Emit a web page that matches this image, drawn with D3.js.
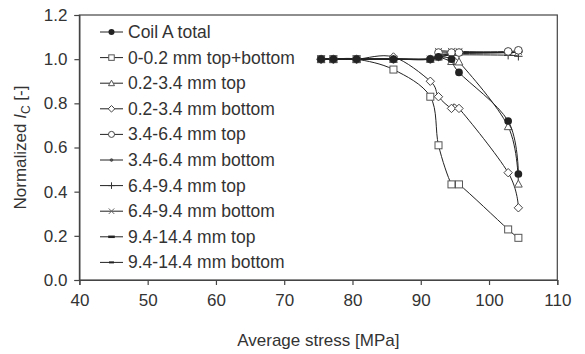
<!DOCTYPE html>
<html>
<head>
<meta charset="utf-8">
<script src="https://cdn.jsdelivr.net/npm/d3@7"></script>
<style>
  body { margin: 0; background: #fff; }
  svg text { font-family: "Liberation Sans", Arial, sans-serif; fill: #333; }
</style>
</head>
<body>
<svg width="585" height="354"></svg>
<script>
// stress points (MPa), shared by all series
var stress = [75.4, 77.2, 80.6, 86.0, 91.4, 92.6, 94.5, 95.6, 102.8, 104.3];

var coilTotal    = [1.0, 1.0, 1.0, 1.0, 1.0, 1.01, 1.0, 0.94, 0.72, 0.48];
var sq0_02       = [1.0, 1.0, 1.0, 0.953, 0.83, 0.61, 0.433, 0.433, 0.229, 0.191];
var tri02_34Top  = [1.0, 1.0, 1.0, 1.0, 1.0, 1.01, 0.99, 0.988, 0.695, 0.435];
var dia02_34Bot  = [1.0, 1.0, 1.0, 1.01, 0.90, 0.83, 0.777, 0.777, 0.486, 0.327];
var cir34_64Top  = [1.0, 1.0, 1.0, 1.0, 1.0, 1.03, 1.03, 1.03, 1.035, 1.04];
var dot34_64Bot  = [1.0, 1.0, 1.0, 1.0, 1.0, 1.02, 1.025, 1.03, 1.03, 1.035];
var plus64_94Top = [1.0, 1.0, 1.0, 1.0, 1.0, 1.01, 1.02, 1.02, 1.018, 1.013];
var x64_94Bot    = [1.0, 1.0, 1.0, 1.0, 1.0, 1.035, 1.035, 1.035, 1.03, 1.035];
var d94_144Top   = [1.0, 1.0, 1.0, 1.0, 1.0, 1.01, 1.02, 1.025, 1.03, 1.035];
var d94_144Bot   = [1.0, 1.0, 1.0, 1.0, 1.0, 1.015, 1.025, 1.028, 1.03, 1.03];

var xTicks = [40, 50, 60, 70, 80, 90, 100, 110];
var yTicks = [0, 0.2, 0.4, 0.6, 0.8, 1.0, 1.2];

var series = [
  {name: 'Coil A total',          values: coilTotal,    marker: 'dot'},
  {name: '0-0.2 mm top+bottom',   values: sq0_02,       marker: 'square'},
  {name: '0.2-3.4 mm top',        values: tri02_34Top,  marker: 'triangle'},
  {name: '0.2-3.4 mm bottom',     values: dia02_34Bot,  marker: 'diamond'},
  {name: '3.4-6.4 mm top',        values: cir34_64Top,  marker: 'circle'},
  {name: '3.4-6.4 mm bottom',     values: dot34_64Bot,  marker: 'small'},
  {name: '6.4-9.4 mm top',        values: plus64_94Top, marker: 'plus'},
  {name: '6.4-9.4 mm bottom',     values: x64_94Bot,    marker: 'cross'},
  {name: '9.4-14.4 mm top',       values: d94_144Top,   marker: 'dash'},
  {name: '9.4-14.4 mm bottom',    values: d94_144Bot,   marker: 'dashThin'}
];

var svg = d3.select('svg');
var plotL = 79.4, plotR = 557.3, plotT = 15, plotB = 280;

var xScale = d3.scaleLinear().domain([40, 110]).range([plotL, plotR]);
var yScale = d3.scaleLinear().domain([0, 1.2]).range([plotB, plotT]);

// frame
svg.append('rect')
  .attr('x', plotL).attr('y', plotT)
  .attr('width', plotR - plotL).attr('height', plotB - plotT)
  .attr('fill', 'none').attr('stroke', '#444').attr('stroke-width', 1.2);

// axes
var xAxis = svg.append('g')
  .attr('transform', 'translate(0,' + plotB + ')')
  .call(d3.axisBottom(xScale).tickValues(xTicks).tickSize(5).tickPadding(9).tickFormat(d3.format('d')));
var yAxis = svg.append('g')
  .attr('transform', 'translate(' + plotL + ',0)')
  .call(d3.axisLeft(yScale).tickValues(yTicks).tickSize(5).tickPadding(7).tickFormat(d3.format('.1f')));
[xAxis, yAxis].forEach(function(ax) {
  ax.select('.domain').attr('stroke', '#444').attr('stroke-width', 1.2);
  ax.selectAll('.tick line').attr('stroke', '#444').attr('stroke-width', 1.2);
  ax.selectAll('.tick text').style('font-size', '17px').attr('fill', '#333');
});

// axis titles
svg.append('text')
  .attr('x', (plotL + plotR) / 2).attr('y', 346)
  .attr('text-anchor', 'middle')
  .style('font-size', '17px')
  .text('Average stress [MPa]');

var yt = svg.append('text')
  .attr('transform', 'translate(26,' + ((plotT + plotB) / 2) + ') rotate(-90)')
  .attr('text-anchor', 'middle')
  .style('font-size', '17px');
yt.append('tspan').text('Normalized ');
yt.append('tspan').style('font-style', 'italic').text('I');
yt.append('tspan').attr('dy', 4).style('font-size', '12px').text('C');
yt.append('tspan').attr('dy', -4).text(' [-]');

// marker drawing
function drawMarker(g, type, size) {
  var s = size;
  if (type === 'dot') {
    g.append('circle').attr('r', s * 0.55).attr('fill', '#222');
  } else if (type === 'square') {
    g.append('rect').attr('x', -s / 2).attr('y', -s / 2).attr('width', s).attr('height', s)
      .attr('fill', '#fff').attr('stroke', '#555').attr('stroke-width', 1);
  } else if (type === 'triangle') {
    g.append('path').attr('d', 'M0,' + (-s * 0.55) + 'L' + (s * 0.55) + ',' + (s * 0.45) + 'L' + (-s * 0.55) + ',' + (s * 0.45) + 'Z')
      .attr('fill', '#fff').attr('stroke', '#555').attr('stroke-width', 1);
  } else if (type === 'diamond') {
    g.append('path').attr('d', 'M0,' + (-s * 0.6) + 'L' + (s * 0.6) + ',0L0,' + (s * 0.6) + 'L' + (-s * 0.6) + ',0Z')
      .attr('fill', '#fff').attr('stroke', '#444').attr('stroke-width', 1);
  } else if (type === 'circle') {
    g.append('circle').attr('r', s * 0.55).attr('fill', '#fff').attr('stroke', '#444').attr('stroke-width', 1);
  } else if (type === 'small') {
    g.append('circle').attr('r', s * 0.25).attr('fill', '#555').attr('stroke', '#333').attr('stroke-width', 0.6);
  } else if (type === 'plus') {
    g.append('path').attr('d', 'M' + (-s * 0.6) + ',0H' + (s * 0.6) + 'M0,' + (-s * 0.6) + 'V' + (s * 0.6))
      .attr('stroke', '#333').attr('stroke-width', 1);
  } else if (type === 'cross') {
    g.append('path').attr('d', 'M' + (-s * 0.5) + ',' + (-s * 0.5) + 'L' + (s * 0.5) + ',' + (s * 0.5) + 'M' + (-s * 0.5) + ',' + (s * 0.5) + 'L' + (s * 0.5) + ',' + (-s * 0.5))
      .attr('stroke', '#666').attr('stroke-width', 1);
  } else if (type === 'dash') {
    g.append('path').attr('d', 'M' + (-s * 0.6) + ',0H' + (s * 0.6)).attr('stroke', '#222').attr('stroke-width', 2.5);
  } else if (type === 'dashThin') {
    g.append('path').attr('d', 'M' + (-s * 0.45) + ',0H' + (s * 0.45)).attr('stroke', '#222').attr('stroke-width', 2);
  }
}

// smoothed lines, as in the spreadsheet original
var line = d3.line()
  .x(function(d) { return xScale(d[0]); })
  .y(function(d) { return yScale(d[1]); })
  .curve(d3.curveCatmullRom.alpha(0));

// draw series, last first so Coil A total ends on top
series.slice().reverse().forEach(function(s) {
  var pts = stress.map(function(x, i) { return [x, s.values[i]]; });
  var g = svg.append('g');
  g.append('path').datum(pts)
    .attr('d', line)
    .attr('fill', 'none').attr('stroke', '#222').attr('stroke-width', 1);
  g.selectAll('g.m').data(pts).enter().append('g')
    .attr('class', 'm')
    .attr('transform', function(d) { return 'translate(' + xScale(d[0]) + ',' + yScale(d[1]) + ')'; })
    .each(function() { drawMarker(d3.select(this), s.marker, 7); });
});

// legend
var legend = svg.append('g');
series.forEach(function(s, i) {
  var y = 32 + i * 25.6;
  var row = legend.append('g').attr('transform', 'translate(0,' + y + ')');
  row.append('line').attr('x1', 100).attr('x2', 123).attr('y1', 0).attr('y2', 0)
    .attr('stroke', '#222').attr('stroke-width', 1);
  var m = row.append('g').attr('transform', 'translate(111.5,0)');
  drawMarker(m, s.marker, 5.5);
  row.append('text').attr('x', 128).attr('y', 6)
    .style('font-size', '17.5px')
    .text(s.name);
});
</script>
</body>
</html>
